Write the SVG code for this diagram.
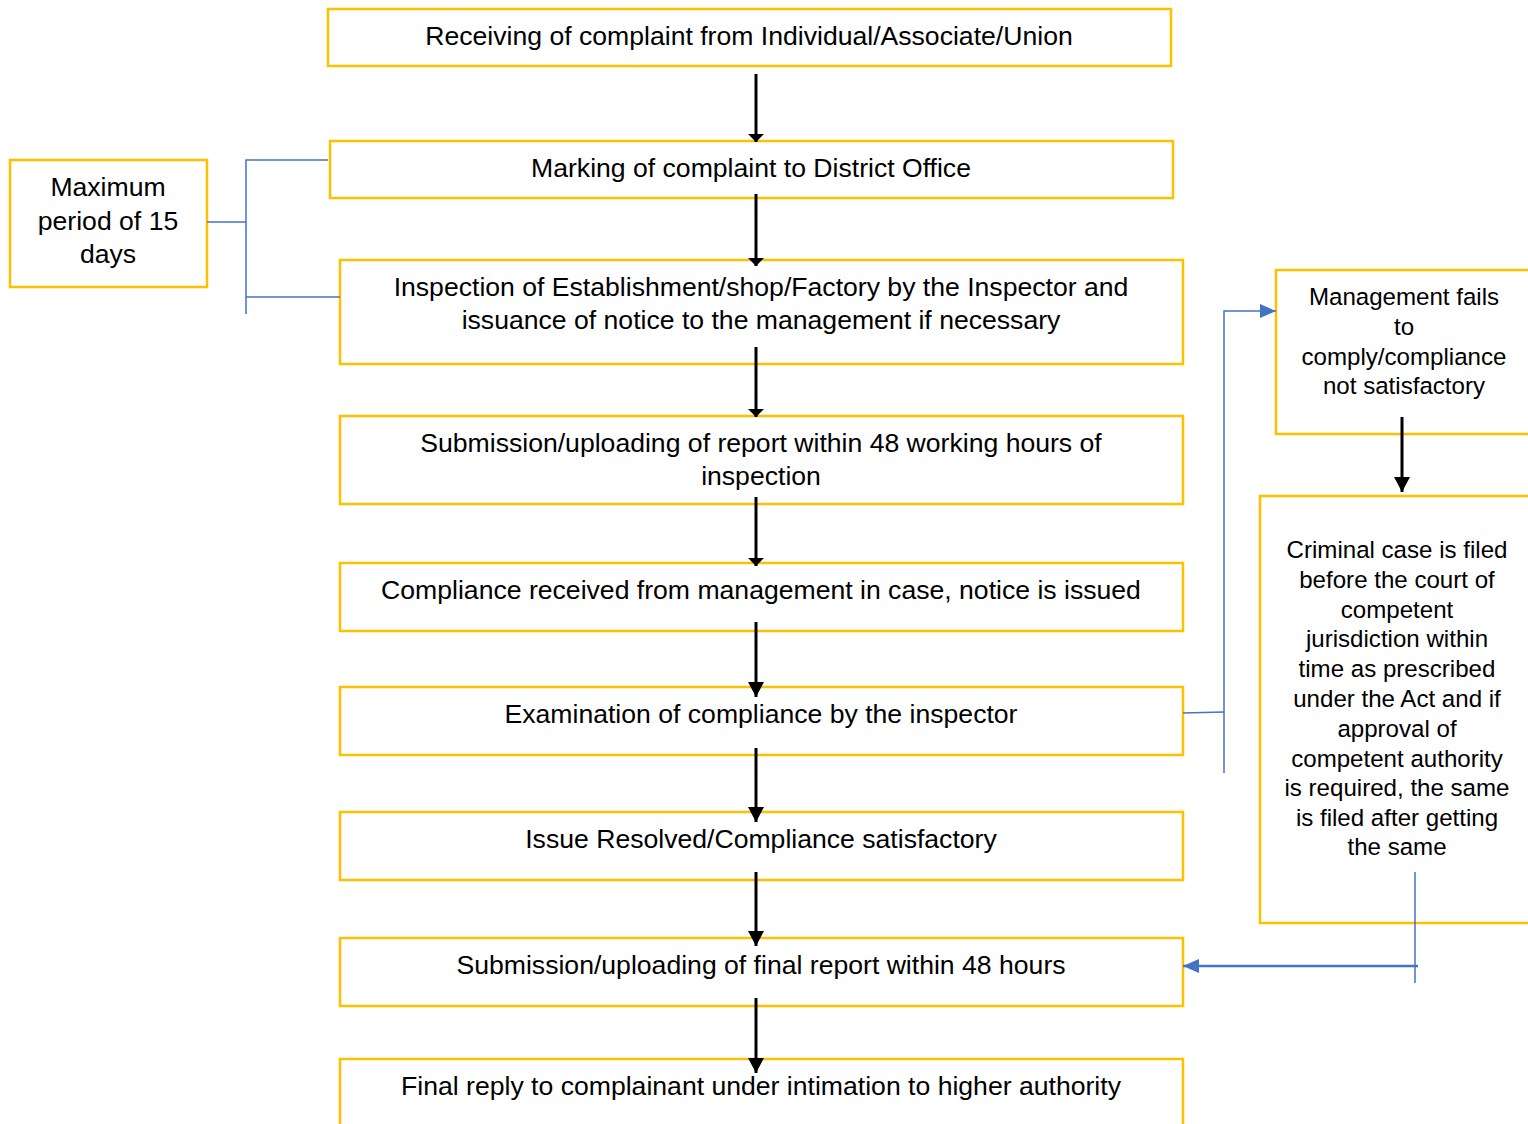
<svg xmlns="http://www.w3.org/2000/svg" width="1528" height="1124" viewBox="0 0 1528 1124">
<style>
.box{fill:#fff;stroke:#FFC000;stroke-width:2.5}
.t{font-family:"Liberation Sans",Arial,sans-serif;font-size:26.6px;fill:#000;text-anchor:middle}
.ts{font-family:"Liberation Sans",Arial,sans-serif;font-size:24.1px;fill:#000;text-anchor:middle}
.blk{stroke:#000;stroke-width:3;fill:none}
.blu{stroke:#4472C4;stroke-width:1.5;fill:none}
.blu2{stroke:#4472C4;stroke-width:2.5;fill:none}
</style>
<defs>
<marker id="ah" markerWidth="8" markerHeight="16" refX="8" refY="8" orient="auto" markerUnits="userSpaceOnUse" viewBox="0 0 8 16">
<path d="M0,0 L8,8 L0,16 Z" fill="#000"/>
</marker>
<marker id="ah2" markerWidth="15" markerHeight="16" refX="15" refY="8" orient="auto" markerUnits="userSpaceOnUse" viewBox="0 0 15 16">
<path d="M0,0 L15,8 L0,16 Z" fill="#000"/>
</marker>
<marker id="bh" markerWidth="16" markerHeight="14" refX="16" refY="7" orient="auto" markerUnits="userSpaceOnUse" viewBox="0 0 16 14">
<path d="M0,0 L16,7 L0,14 Z" fill="#4472C4"/>
</marker>
</defs>
<rect width="1528" height="1124" fill="#fff"/>
<g id="n1"><rect class="box" x="328" y="9" width="843" height="57"/><text class="t" x="749" y="45">Receiving of complaint from Individual/Associate/Union</text></g>
<g id="n2"><rect class="box" x="330" y="141" width="843" height="57"/><text class="t" x="751" y="177">Marking of complaint to District Office</text></g>
<g id="n3"><rect class="box" x="340" y="260" width="843" height="104"/><text class="t" x="761" y="296">Inspection of Establishment/shop/Factory by the Inspector and</text><text class="t" x="761" y="329">issuance of notice to the management if necessary</text></g>
<g id="n4"><rect class="box" x="340" y="416" width="843" height="88"/><text class="t" x="761" y="452">Submission/uploading of report within 48 working hours of</text><text class="t" x="761" y="485">inspection</text></g>
<g id="n5"><rect class="box" x="340" y="563" width="843" height="68"/><text class="t" x="761" y="599">Compliance received from management in case, notice is issued</text></g>
<g id="n6"><rect class="box" x="340" y="687" width="843" height="68"/><text class="t" x="761" y="723">Examination of compliance by the inspector</text></g>
<g id="n7"><rect class="box" x="340" y="812" width="843" height="68"/><text class="t" x="761" y="848">Issue Resolved/Compliance satisfactory</text></g>
<g id="n8"><rect class="box" x="340" y="938" width="843" height="68"/><text class="t" x="761" y="974">Submission/uploading of final report within 48 hours</text></g>
<g id="n9"><rect class="box" x="340" y="1059" width="843" height="90"/><text class="t" x="761" y="1095">Final reply to complainant under intimation to higher authority</text></g>
<g id="n10"><rect class="box" x="10" y="160" width="197" height="127"/><text class="t" x="108" y="196">Maximum</text><text class="t" x="108" y="230">period of 15</text><text class="t" x="108" y="263">days</text></g>
<g id="n11"><rect class="box" x="1276" y="270" width="270" height="164"/><text class="ts" x="1404" y="305">Management fails</text><text class="ts" x="1404" y="335">to</text><text class="ts" x="1404" y="365">comply/compliance</text><text class="ts" x="1404" y="394">not satisfactory</text></g>
<g id="n12"><rect class="box" x="1260" y="496" width="290" height="427"/>
<text class="ts" x="1397" y="558">Criminal case is filed</text>
<text class="ts" x="1397" y="588">before the court of</text>
<text class="ts" x="1397" y="618">competent</text>
<text class="ts" x="1397" y="647">jurisdiction within</text>
<text class="ts" x="1397" y="677">time as prescribed</text>
<text class="ts" x="1397" y="707">under the Act and if</text>
<text class="ts" x="1397" y="737">approval of</text>
<text class="ts" x="1397" y="767">competent authority</text>
<text class="ts" x="1397" y="796">is required, the same</text>
<text class="ts" x="1397" y="826">is filed after getting</text>
<text class="ts" x="1397" y="855">the same</text>
</g>
<g id="connectors">
<line class="blk" x1="756" y1="74" x2="756" y2="142" marker-end="url(#ah)"/>
<line class="blk" x1="756" y1="194" x2="756" y2="266" marker-end="url(#ah)"/>
<line class="blk" x1="756" y1="347" x2="756" y2="417" marker-end="url(#ah)"/>
<line class="blk" x1="756" y1="497" x2="756" y2="566" marker-end="url(#ah)"/>
<line class="blk" x1="756" y1="622" x2="756" y2="697" marker-end="url(#ah2)"/>
<line class="blk" x1="756" y1="748" x2="756" y2="822" marker-end="url(#ah2)"/>
<line class="blk" x1="756" y1="872" x2="756" y2="946" marker-end="url(#ah2)"/>
<line class="blk" x1="756" y1="998" x2="756" y2="1073" marker-end="url(#ah2)"/>
<line class="blk" x1="1402" y1="417" x2="1402" y2="492" marker-end="url(#ah2)"/>
<polyline class="blu" points="207,222 246,222"/>
<polyline class="blu" points="328,160 246,160 246,314"/>
<polyline class="blu" points="246,297 340,297"/>
<polyline class="blu" points="1183,713 1224,712"/>
<polyline class="blu" points="1224,773 1224,311 1276,311" marker-end="url(#bh)"/>
<line class="blu" x1="1415" y1="872" x2="1415" y2="983"/>
<line class="blu2" x1="1418" y1="966" x2="1183" y2="966" marker-end="url(#bh)"/>
</g>
</svg>
